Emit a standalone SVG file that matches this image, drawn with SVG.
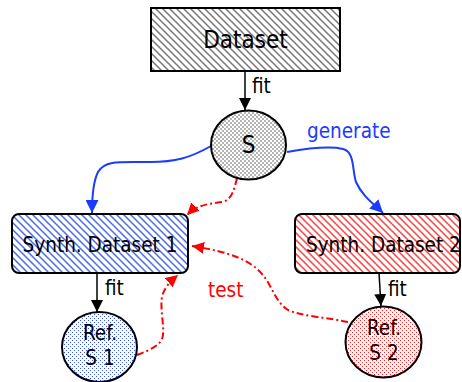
<svg xmlns="http://www.w3.org/2000/svg" width="462" height="382" viewBox="0 0 462 382">
<style>
.t{font-family:"DejaVu Sans Condensed","DejaVu Sans","Liberation Sans",sans-serif;font-stretch:condensed;font-size:20.5px;fill:#000}
.big{font-size:24px}
.box{stroke:#000;stroke-width:2}
.k{fill:none;stroke:#000;stroke-width:1.5}
.b{fill:none;stroke:#1a3cff;stroke-width:2}
.r{fill:none;stroke:#ff0000;stroke-width:2;stroke-dasharray:7 3 2 3}
</style>
<defs>
<pattern id="hk" patternUnits="userSpaceOnUse" width="7" height="7">
<rect width="7" height="7" fill="#fff"/>
<path d="M-1,6 l2,2 M0,0 l7,7 M6,-1 l2,2" stroke="#777" stroke-width="1.5"/>
</pattern>
<pattern id="hb" patternUnits="userSpaceOnUse" width="7" height="7">
<rect width="7" height="7" fill="#fff"/>
<path d="M-1,6 l2,2 M0,0 l7,7 M6,-1 l2,2" stroke="#4a6af0" stroke-width="1.5"/>
</pattern>
<pattern id="hr" patternUnits="userSpaceOnUse" width="7" height="7">
<rect width="7" height="7" fill="#fff"/>
<path d="M-1,6 l2,2 M0,0 l7,7 M6,-1 l2,2" stroke="#ff4040" stroke-width="1.5"/>
</pattern>
<pattern id="ck" patternUnits="userSpaceOnUse" width="4" height="4">
<rect width="4" height="4" fill="#fff"/>
<rect width="2" height="2" fill="#b4b4b4"/>
<rect x="2" y="2" width="2" height="2" fill="#b4b4b4"/>
</pattern>
<pattern id="db" patternUnits="userSpaceOnUse" width="4" height="4">
<rect width="4" height="4" fill="#fff"/>
<rect width="1" height="1" fill="#3050f0"/>
<rect x="2" y="2" width="1" height="1" fill="#3050f0"/>
</pattern>
<pattern id="dr" patternUnits="userSpaceOnUse" width="4" height="4">
<rect width="4" height="4" fill="#fff"/>
<rect width="1" height="1" fill="#ff2020"/>
<rect x="2" y="2" width="1" height="1" fill="#ff2020"/>
</pattern>
<marker id="ak" markerUnits="userSpaceOnUse" markerWidth="12" markerHeight="12" viewBox="0 0 10 10" refX="10" refY="5" orient="auto"><path d="M0,0 L10,5 L0,10 z" fill="#000"/></marker>
<marker id="ab" markerUnits="userSpaceOnUse" markerWidth="13" markerHeight="13" viewBox="0 0 10 10" refX="10" refY="5" orient="auto"><path d="M0,0 L10,5 L0,10 z" fill="#1a3cff"/></marker>
<marker id="ar" markerUnits="userSpaceOnUse" markerWidth="12" markerHeight="12" viewBox="0 0 10 10" refX="10" refY="5" orient="auto"><path d="M0,0 L10,5 L0,10 z" fill="#ff0000"/></marker>
</defs>

<g id="connectors">
<path class="k" d="M245,71 L245,110" marker-end="url(#ak)"/>
<path class="k" d="M97,273 L97,312" marker-end="url(#ak)"/>
<path class="k" d="M379,273 L381,306" marker-end="url(#ak)"/>
<path class="b" d="M211,146 C190,158 175,162 150,162 C120,162 105,160 98,172 C93,182 92,200 92,213" marker-end="url(#ab)"/>
<path class="b" d="M287,152 C310,148 330,146 343,149 C355,152 352,170 356,182 C362,196 375,205 383,213" marker-end="url(#ab)"/>
<path class="r" d="M237,178 C234,190 232,200 222,202 C210,204 198,204 187,215" marker-end="url(#ar)"/>
<path class="r" d="M137,355 C150,350 162,345 163,335 C164,322 160,310 162,297 C164,287 172,280 178,275" marker-end="url(#ar)"/>
<path class="r" d="M348,322 C330,318 300,316 288,310 C275,302 272,285 262,274 C250,260 230,252 192,246" marker-end="url(#ar)"/>
<text class="t" x="252" y="93">fit</text>
<text class="t" x="105" y="295">fit</text>
<text class="t" x="388" y="296">fit</text>
<text class="t" x="307" y="138" style="fill:#1a3cff">generate</text>
<text class="t" x="208" y="297" style="fill:#ff0000">test</text>
</g>

<g id="dataset">
<rect class="box" x="151" y="8" width="189" height="63" fill="url(#hk)"/>
<text class="t big" x="245.5" y="48" text-anchor="middle">Dataset</text>
</g>
<g id="s">
<ellipse class="box" cx="248.5" cy="145" rx="37.5" ry="34.5" fill="url(#ck)"/>
<text class="t big" x="248.5" y="153" text-anchor="middle">S</text>
</g>
<g id="synth1">
<rect class="box" x="12" y="214" width="176" height="59" rx="7" fill="url(#hb)"/>
<text class="t" x="100" y="252" text-anchor="middle">Synth. Dataset 1</text>
</g>
<g id="synth2">
<rect class="box" x="295" y="214" width="165" height="59" rx="7" fill="url(#hr)"/>
<text class="t" x="306" y="252">Synth. Dataset 2</text>
</g>
<g id="ref1">
<ellipse class="box" cx="99.5" cy="347" rx="37.5" ry="35" fill="url(#db)"/>
<text class="t" x="100" y="340" text-anchor="middle">Ref.</text>
<text class="t" x="100" y="365" text-anchor="middle">S 1</text>
</g>
<g id="ref2">
<ellipse class="box" cx="383.5" cy="342" rx="38" ry="35.5" fill="url(#dr)"/>
<text class="t" x="384" y="335" text-anchor="middle">Ref.</text>
<text class="t" x="384" y="360" text-anchor="middle">S 2</text>
</g>
</svg>
